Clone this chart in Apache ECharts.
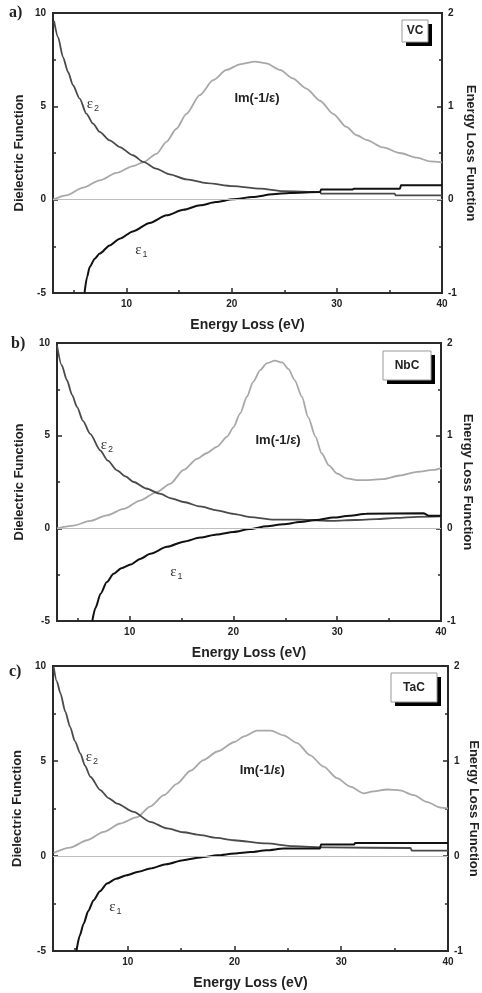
<!DOCTYPE html>
<html>
<head>
<meta charset="utf-8">
<script src="https://cdn.jsdelivr.net/npm/echarts@6/dist/echarts.min.js"></script>
<style>
  html, body { margin: 0; padding: 0; background: #fff; }
  #main { width: 482px; height: 993px; }
</style>
</head>
<body>
<div id="main"></div>
<script>
// energy (eV) / value pairs
var vcEps1 = [[6.0,-5],[6.24,-4.14],[6.49,-3.61],[6.97,-3.16],[7.44,-2.89],[8.39,-2.45],[9.35,-2.09],[10.6,-1.7],[12.2,-1.25],[13.8,-0.84],[15.4,-0.54],[17,-0.3],[18.5,-0.13],[20.1,0.02],[22,0.14],[23.9,0.29],[25.5,0.36],[28.4,0.41],[28.5,0.54],[31.5,0.54],[31.6,0.59],[36,0.59],[36.1,0.77],[40,0.77]];
var vcEps2 = [[3.1,9.57],[3.48,8.71],[3.95,7.64],[4.43,6.84],[4.9,6.13],[5.54,5.41],[6.17,4.61],[6.81,4.07],[7.44,3.63],[8.39,3.18],[9.35,2.82],[10.6,2.38],[11.6,2.02],[12.8,1.66],[14.1,1.36],[15.7,1.09],[17.6,0.89],[20.1,0.73],[22.7,0.59],[24.9,0.46],[28.4,0.41],[28.5,0.32],[35.5,0.32],[35.6,0.23],[40,0.23]];
var vcLoss = [[3,0],[4.27,0.046],[5.86,0.129],[7.44,0.207],[9.03,0.286],[10.6,0.36],[11.57,0.4],[12.84,0.49],[13.79,0.62],[14.74,0.76],[15.69,0.92],[16.96,1.12],[18.23,1.28],[19.5,1.39],[20.77,1.45],[22.2,1.48],[23.3,1.46],[24.6,1.39],[25.8,1.3],[27.1,1.19],[28.4,1.06],[29.65,0.92],[30.9,0.78],[31.9,0.69],[32.8,0.64],[34.4,0.56],[36,0.5],[37.6,0.45],[38.85,0.41],[40,0.4]];

var nbcEps1 = [[6.4,-5],[6.7,-4.3],[7.2,-3.53],[7.8,-2.9],[8.45,-2.45],[9.2,-2.15],[10.1,-1.95],[11,-1.65],[12,-1.37],[13.6,-1.0],[15.2,-0.72],[16.8,-0.5],[18.4,-0.33],[20,-0.2],[21.6,-0.04],[23.2,0.11],[24.8,0.22],[26.4,0.34],[28,0.45],[29.6,0.58],[31.2,0.68],[32.8,0.79],[38.3,0.82],[38.8,0.68],[40,0.68]];
var nbcEps2 = [[3,9.87],[3.45,8.8],[3.96,7.99],[4.45,7.2],[4.93,6.55],[5.5,5.8],[6.2,5.1],[7.17,4.2],[7.9,3.65],[8.78,3.13],[9.6,2.8],[10.4,2.5],[11.6,2.15],[12.9,1.87],[14,1.62],[15.2,1.42],[16.8,1.18],[18.4,0.97],[20,0.78],[21.6,0.61],[23.9,0.47],[26.4,0.47],[29.6,0.4],[31.7,0.45],[33.8,0.5],[35.7,0.56],[37.7,0.62],[40,0.64]];
var nbcLoss = [[3,0],[4.6,0.03],[6.2,0.08],[7.8,0.14],[9.42,0.21],[11,0.3],[12.6,0.39],[13.9,0.48],[15.2,0.63],[16.5,0.75],[17.4,0.81],[18.4,0.88],[19.4,0.99],[20,1.09],[20.65,1.24],[21.3,1.42],[21.9,1.58],[22.6,1.71],[23.2,1.78],[24,1.81],[24.7,1.79],[25.3,1.72],[25.9,1.6],[26.6,1.42],[27.2,1.2],[27.9,0.99],[28.5,0.81],[29.2,0.68],[30,0.59],[30.9,0.54],[31.9,0.52],[32.8,0.52],[34.4,0.53],[36.05,0.57],[37.7,0.61],[39.3,0.63],[40,0.65]];

var tacEps1 = [[5.2,-5],[5.5,-4.2],[5.87,-3.56],[6.3,-2.9],[6.8,-2.33],[7.4,-1.85],[8.06,-1.45],[8.9,-1.2],[9.9,-1.01],[11,-0.83],[12.1,-0.66],[13.6,-0.43],[15.2,-0.22],[16.8,-0.08],[18.4,0.04],[20,0.13],[21.5,0.21],[23,0.3],[24.6,0.39],[28,0.39],[28.1,0.6],[31.2,0.6],[31.3,0.69],[40,0.69]];
var tacEps2 = [[3.06,9.96],[3.35,9.2],[3.7,8.56],[4.15,7.6],[4.6,6.8],[5.05,6.05],[5.56,5.4],[6.0,4.75],[6.5,4.17],[7.43,3.47],[8.2,3.05],[9,2.76],[10.56,2.32],[12.1,1.8],[13.7,1.45],[15.2,1.25],[16.8,1.1],[18.4,0.95],[19.9,0.83],[23,0.66],[25.5,0.52],[28.7,0.45],[36.5,0.42],[36.6,0.28],[40,0.28]];
var tacLoss = [[3.06,0.033],[4.62,0.089],[6.18,0.166],[7.75,0.254],[9.31,0.342],[10.87,0.41],[12.1,0.52],[13.4,0.64],[14.6,0.76],[15.9,0.9],[17.1,1.01],[18.4,1.1],[20,1.2],[20.9,1.26],[22.1,1.32],[23.4,1.32],[24.6,1.27],[25.85,1.19],[27.1,1.06],[28.35,0.94],[29.6,0.82],[30.85,0.73],[32.1,0.66],[33,0.68],[34.3,0.7],[35.5,0.69],[36.8,0.64],[38,0.57],[39.3,0.51],[40,0.5]];

var panelNames = ['VC', 'NbC', 'TaC'];
var panelLetters = ['a)', 'b)', 'c)'];
var xMajorTicks = [10, 20, 30, 40];
var xMinorTicks = [5, 15, 25, 35];
// label anchors [eps2, eps1, Im] in dielectric-function units
var labelSpots = [
    [[6.8, 5.14], [11.4, -2.7], [22.4, 5.4]],
    [[7.8, 4.48], [14.5, -2.36], [24.3, 4.75]],
    [[6.65, 5.22], [8.84, -2.68], [22.6, 4.52]]
];

var eps1Data = [vcEps1, nbcEps1, tacEps1];
var eps2Data = [vcEps2, nbcEps2, tacEps2];
var lossData = [vcLoss, nbcLoss, tacLoss];

var grids = [
    {left: 53, top: 13, width: 389, height: 280},
    {left: 57, top: 343, width: 384, height: 278},
    {left: 53, top: 666, width: 395, height: 285}
];
var leftNameGap = [27, 31, 29];
var rightNameGap = [22, 20, 19];
var boxes = [
    {x: 402, y: 20, w: 26, h: 22},
    {x: 383, y: 351, w: 48, h: 29},
    {x: 391, y: 673, w: 46, h: 29}
];
var letterPos = [[9, 5], [11, 336], [9, 664]];

var chart = echarts.init(document.getElementById('main'));
var fontSans = '"Liberation Sans", Arial, sans-serif';

var option = {
    backgroundColor: '#fff',
    animation: false,
    grid: [],
    xAxis: [],
    yAxis: [],
    series: [],
    graphic: []
};

for (var i = 0; i < 3; i++) {
    option.grid.push({
        left: grids[i].left, top: grids[i].top, width: grids[i].width, height: grids[i].height,
        outerBoundsMode: 'none', containLabel: false,
        show: true, borderColor: '#2a2a2a', borderWidth: 2, backgroundColor: 'transparent'
    });
    option.xAxis.push({
        gridIndex: i, type: 'value', min: 3, max: 40, position: 'bottom',
        axisLine: {show: false, onZero: false},
        splitLine: {show: false},
        axisTick: {inside: true, length: 5, customValues: xMajorTicks, lineStyle: {color: '#2a2a2a', width: 1.5}},
        axisLabel: {customValues: xMajorTicks, fontFamily: fontSans, fontWeight: 'bold', fontSize: 10, color: '#222', margin: 6},
        name: 'Energy Loss (eV)', nameLocation: 'middle', nameGap: 25,
        nameTextStyle: {fontFamily: fontSans, fontWeight: 'bold', fontSize: 14, color: '#222'}
    });
    option.xAxis.push({
        gridIndex: i, type: 'value', min: 3, max: 40, position: 'bottom', offset: 0,
        axisLine: {show: false, onZero: false},
        splitLine: {show: false},
        axisLabel: {show: false},
        axisTick: {inside: true, length: 3, customValues: xMinorTicks, lineStyle: {color: '#2a2a2a', width: 1.5}}
    });
    option.yAxis.push({
        gridIndex: i, type: 'value', min: -5, max: 10, interval: 5, position: 'left',
        axisLine: {show: false, onZero: false},
        splitLine: {show: false},
        axisTick: {inside: true, length: 5, lineStyle: {color: '#2a2a2a', width: 1.5}},
        minorTick: {show: true, splitNumber: 2, length: 3, lineStyle: {color: '#2a2a2a', width: 1.5}},
        axisLabel: {fontFamily: fontSans, fontWeight: 'bold', fontSize: 10, color: '#222', margin: 7},
        name: 'Dielectric Function', nameLocation: 'middle', nameGap: leftNameGap[i], nameMoveOverlap: false,
        nameTextStyle: {fontFamily: fontSans, fontWeight: 'bold', fontSize: 13, color: '#222'}
    });
    option.yAxis.push({
        gridIndex: i, type: 'value', min: -1, max: 2, interval: 1, position: 'right',
        axisLine: {show: false, onZero: false},
        splitLine: {show: false},
        axisTick: {inside: true, length: 5, lineStyle: {color: '#2a2a2a', width: 1.5}},
        minorTick: {show: true, splitNumber: 2, length: 3, lineStyle: {color: '#2a2a2a', width: 1.5}},
        axisLabel: {fontFamily: fontSans, fontWeight: 'bold', fontSize: 10, color: '#222', margin: 6},
        name: 'Energy Loss Function', nameLocation: 'middle', nameGap: rightNameGap[i], nameRotate: -90, nameMoveOverlap: false,
        nameTextStyle: {fontFamily: fontSans, fontWeight: 'bold', fontSize: 13, color: '#222'}
    });

    var spots = labelSpots[i];
    option.series.push({
        name: 'Im', type: 'line', xAxisIndex: 2 * i, yAxisIndex: 2 * i + 1,
        data: lossData[i], showSymbol: false, smooth: 0.25, smoothMonotone: 'x',
        lineStyle: {color: '#a8a8a8', width: 1.8}, z: 2
    });
    option.series.push({
        name: 'eps2', type: 'line', xAxisIndex: 2 * i, yAxisIndex: 2 * i,
        data: eps2Data[i], showSymbol: false, smooth: 0.25, smoothMonotone: 'x',
        lineStyle: {color: '#4a4a4a', width: 1.8}, z: 3
    });
    option.series.push({
        name: 'eps1', type: 'line', xAxisIndex: 2 * i, yAxisIndex: 2 * i,
        data: eps1Data[i], showSymbol: false, smooth: 0.25, smoothMonotone: 'x',
        lineStyle: {color: '#111', width: 2}, z: 4,
        markLine: {
            silent: true, symbol: 'none', label: {show: false},
            lineStyle: {color: '#bdbdbd', width: 1, type: 'solid'},
            data: [{yAxis: 0}]
        },
        markPoint: {
            symbol: 'circle', symbolSize: 1, silent: true,
            itemStyle: {color: 'rgba(0,0,0,0)'},
            label: {
                show: true, position: 'inside',
                rich: {
                    e: {fontFamily: '"Liberation Serif", serif', fontSize: 15, color: '#333'},
                    s: {fontFamily: fontSans, fontSize: 9, color: '#333', padding: [9, 0, 0, 1]},
                    t: {fontFamily: fontSans, fontWeight: 'bold', fontSize: 13, color: '#222'}
                }
            },
            data: [
                {coord: spots[0], label: {formatter: '{e|ε}{s|2}'}},
                {coord: spots[1], label: {formatter: '{e|ε}{s|1}'}},
                {coord: spots[2], label: {formatter: '{t|Im(-1/ε)}'}}
            ]
        }
    });

    var b = boxes[i];
    option.graphic.push({
        type: 'rect', shape: {x: b.x + 4, y: b.y + 4, width: b.w, height: b.h},
        style: {fill: '#000'}, z: 100
    });
    option.graphic.push({
        type: 'rect', shape: {x: b.x, y: b.y, width: b.w, height: b.h},
        style: {fill: '#fff', stroke: '#999', lineWidth: 1}, z: 101
    });
    option.graphic.push({
        type: 'text', x: b.x + b.w / 2, y: b.y + b.h / 2, z: 102,
        style: {text: panelNames[i], align: 'center', verticalAlign: 'middle',
            font: 'bold 12px "Liberation Sans", Arial, sans-serif', fill: '#222'}
    });
    option.graphic.push({
        type: 'text', x: letterPos[i][0], y: letterPos[i][1], z: 102,
        style: {text: panelLetters[i], font: 'bold 16px "Liberation Serif", serif', fill: '#222'}
    });
}

chart.setOption(option);
</script>
</body>
</html>
